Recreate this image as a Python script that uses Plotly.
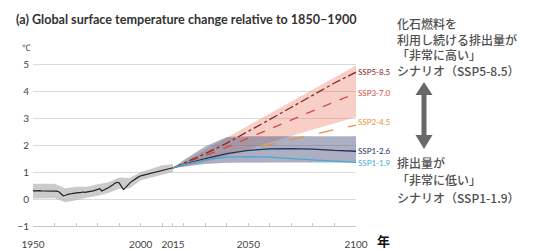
import plotly.graph_objects as go

# ---------------- data ----------------
hist_years = list(range(1950, 2016))
hist_values = [0.30, 0.31, 0.30, 0.31, 0.30, 0.30, 0.31, 0.31, 0.30, 0.30,
               0.30, 0.29, 0.27, 0.18, 0.12, 0.14, 0.17, 0.19, 0.20, 0.22,
               0.23, 0.24, 0.24, 0.26, 0.25, 0.26, 0.27, 0.29, 0.30, 0.33,
               0.36, 0.38, 0.30, 0.33, 0.38, 0.42, 0.46, 0.52, 0.58, 0.62,
               0.60, 0.45, 0.35, 0.42, 0.52, 0.60, 0.66, 0.72, 0.78, 0.82,
               0.86, 0.88, 0.90, 0.92, 0.94, 0.96, 0.98, 1.00, 1.02, 1.04,
               1.06, 1.08, 1.10, 1.12, 1.14, 1.16]

band_years = [1950, 1955, 1960, 1965, 1970, 1975, 1980, 1985, 1990, 1995, 2000, 2005, 2010, 2015]
hist_upper = [0.57, 0.58, 0.57, 0.40, 0.45, 0.45, 0.55, 0.62, 0.80, 0.78, 1.00, 1.12, 1.25, 1.30]
hist_lower = [0.02, 0.03, 0.03, -0.12, -0.05, 0.05, 0.12, 0.22, 0.38, 0.40, 0.70, 0.80, 0.90, 1.00]

proj_years = [2015, 2020, 2030, 2040, 2050, 2060, 2070, 2080, 2090, 2100]
ssp585 = [1.15, 1.32, 1.68, 2.07, 2.50, 2.95, 3.40, 3.85, 4.30, 4.70]
ssp370 = [1.15, 1.30, 1.60, 1.92, 2.26, 2.60, 2.95, 3.28, 3.60, 3.92]
ssp245 = [1.15, 1.28, 1.50, 1.68, 1.83, 2.02, 2.20, 2.40, 2.57, 2.74]
ssp126 = [1.15, 1.28, 1.50, 1.68, 1.80, 1.86, 1.87, 1.85, 1.80, 1.77]
ssp119 = [1.15, 1.27, 1.45, 1.55, 1.57, 1.55, 1.50, 1.45, 1.40, 1.36]

red_upper = [1.15, 1.38, 1.82, 2.27, 2.72, 3.16, 3.60, 4.05, 4.50, 4.95]
red_lower = [1.15, 1.20, 1.38, 1.60, 1.85, 2.10, 2.35, 2.58, 2.80, 3.04]
blue_upper = [1.15, 1.45, 1.95, 2.30, 2.33, 2.33, 2.33, 2.33, 2.33, 2.33]
blue_lower = [1.15, 1.20, 1.30, 1.34, 1.35, 1.35, 1.35, 1.35, 1.35, 1.35]

series_names = ["SSP5-8.5", "SSP3-7.0", "SSP2-4.5", "SSP1-2.6", "SSP1-1.9"]
series_colors = ["#862626", "#d9453b", "#e8923c", "#22325f", "#45a8d6"]
series_dash = ["dashdot", "dash", "longdash", "solid", "solid"]

x_ticks = [1950, 2000, 2015, 2050, 2100]
y_ticks = [-1, 0, 1, 2, 3, 4, 5]

title_text = "(a) Global surface temperature change relative to 1850–1900"
high_text = ["化石燃料を", "利用し続ける排出量が", "「非常に高い」", "シナリオ（SSP5-8.5）"]
low_text = ["排出量が", "「非常に低い」", "シナリオ（SSP1-1.9）"]

# ---------------- layout geometry ----------------
W, H = 533, 251
L, R, T, B = 33, 177, 56, 25
PW, PH = W - L - R, H - T - B


def px(x):
    return (x - L) / PW


def py(y):
    return (H - B - y) / PH


fig = go.Figure()

# historical band + line
fig.add_trace(go.Scatter(x=band_years, y=hist_upper, mode="lines", line=dict(width=0),
                         showlegend=False, hoverinfo="skip"))
fig.add_trace(go.Scatter(x=band_years, y=hist_lower, mode="lines", line=dict(width=0),
                         fill="tonexty", fillcolor="rgba(185,185,185,0.75)",
                         showlegend=False, hoverinfo="skip"))
fig.add_trace(go.Scatter(x=hist_years, y=hist_values, mode="lines",
                         line=dict(color="#222222", width=1.2), showlegend=False))

# projection bands
fig.add_trace(go.Scatter(x=proj_years, y=red_upper, mode="lines", line=dict(width=0),
                         showlegend=False, hoverinfo="skip"))
fig.add_trace(go.Scatter(x=proj_years, y=red_lower, mode="lines", line=dict(width=0),
                         fill="tonexty", fillcolor="rgba(236,130,105,0.38)",
                         showlegend=False, hoverinfo="skip"))
fig.add_trace(go.Scatter(x=proj_years, y=blue_upper, mode="lines", line=dict(width=0),
                         showlegend=False, hoverinfo="skip"))
fig.add_trace(go.Scatter(x=proj_years, y=blue_lower, mode="lines", line=dict(width=0),
                         fill="tonexty", fillcolor="rgba(80,88,125,0.48)",
                         showlegend=False, hoverinfo="skip"))

series_values = [ssp585, ssp370, ssp245, ssp126, ssp119]
for name, vals, col, dsh in zip(series_names, series_values, series_colors, series_dash):
    fig.add_trace(go.Scatter(x=proj_years, y=vals, mode="lines", name=name,
                             line=dict(color=col, width=1.3, dash=dsh), showlegend=False))

# series labels at right end
label_y_px = [72, 93, 122, 151, 163]
for name, col, ly in zip(series_names, series_colors, label_y_px):
    fig.add_annotation(x=px(357), y=py(ly), xref="paper", yref="paper", text=name,
                       showarrow=False, xanchor="left", yanchor="middle", borderpad=0,
                       font=dict(family="Lato", size=8, color=col))

# title
fig.add_annotation(x=px(14), y=py(19), xref="paper", yref="paper", text=title_text,
                   showarrow=False, xanchor="left", yanchor="middle",
                   font=dict(family="Lato", size=12.6, color="#333333", weight="bold"))
# degree unit
fig.add_annotation(x=px(26), y=py(48), xref="paper", yref="paper", text="℃",
                   showarrow=False, xanchor="center", yanchor="middle",
                   font=dict(family="Lato", size=9, color="#555555"))
# 年
fig.add_annotation(x=px(383), y=py(240), xref="paper", yref="paper", text="年",
                   showarrow=False, xanchor="center", yanchor="middle",
                   font=dict(family="Noto Sans CJK JP", size=13, color="#111111", weight="bold"))

# Japanese annotations
fig.add_annotation(x=px(396), y=py(14), xref="paper", yref="paper", text="<br>".join(high_text),
                   showarrow=False, xanchor="left", yanchor="top", align="left", borderpad=0,
                   font=dict(family="Noto Sans CJK JP", size=12, color="#505050", weight=500))
for i, line in enumerate(low_text):
    fig.add_annotation(x=px(396), y=py(162 + i * 17.5), xref="paper", yref="paper", text=line,
                       showarrow=False, xanchor="left", yanchor="middle", borderpad=0,
                       font=dict(family="Noto Sans CJK JP", size=12, color="#505050", weight=500))

# double-headed arrow drawn as shapes (paper coordinates)
arrow_col = "#686868"
fig.add_shape(type="line", xref="paper", yref="paper",
              x0=px(424), x1=px(424), y0=py(93), y1=py(137),
              line=dict(color=arrow_col, width=5))
fig.add_shape(type="path", xref="paper", yref="paper",
              path=f"M {px(424)} {py(82)} L {px(415.5)} {py(95)} L {px(432.5)} {py(95)} Z",
              fillcolor=arrow_col, line=dict(width=0))
fig.add_shape(type="path", xref="paper", yref="paper",
              path=f"M {px(424)} {py(149)} L {px(415.5)} {py(135)} L {px(432.5)} {py(135)} Z",
              fillcolor=arrow_col, line=dict(width=0))

fig.update_layout(
    width=W, height=H,
    margin=dict(l=L, r=R, t=T, b=B, pad=0),
    paper_bgcolor="white", plot_bgcolor="white",
    showlegend=False,
)
fig.update_xaxes(range=[1950, 2100], tickvals=x_ticks, ticktext=[str(v) for v in x_ticks],
                 showgrid=False, zeroline=False, showline=True, linecolor="#c8c8c8", linewidth=1,
                 ticks="inside", ticklen=3, tickcolor="#c8c8c8",
                 minor=dict(dtick=10, tick0=1950, ticks="inside", ticklen=3, tickcolor="#c8c8c8"),
                 tickfont=dict(family="Lato", size=10, color="#444444"),
                 ticklabelstandoff=9, automargin=False)
fig.update_yaxes(range=[-1, 5.3], tickvals=y_ticks, showgrid=True, gridcolor="#dadada",
                 gridwidth=1, zeroline=False, showline=False, ticks="",
                 tickfont=dict(family="Lato", size=10, color="#444444"),
                 ticklabelstandoff=3, automargin=False)

fig.write_html("out.html", config={"displayModeBar": False},
               post_script="document.body.style.margin='0px';")
